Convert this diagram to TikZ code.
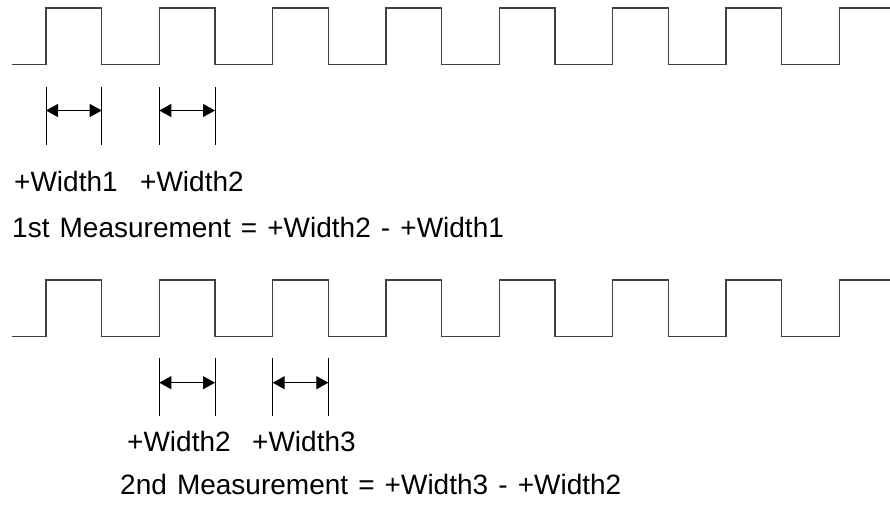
\documentclass[tikz,border=0pt]{standalone}
\usepackage{fontspec}
\setmainfont[WordSpace=1.3]{Liberation Sans}
\usetikzlibrary{arrows.meta}

\begin{document}
\begin{tikzpicture}[
    x=1pt,
    y=-1pt,
    wave/.style={draw=black!75, line width=1.3pt},
    tick/.style={draw, line width=1pt},
    span/.style={{Triangle[length=12pt,width=13pt]}-{Triangle[length=12pt,width=13pt]}, line width=1pt},
    label/.style={anchor=base west, inner sep=0pt, font=\fontsize{28}{33}\selectfont}
]
\useasboundingbox (0,0) rectangle (890,510);

% first pulse train
\draw[wave] (12,64.3) -| (46,8) -| (101.7,64.3) -| (159.3,8) -| (215,64.3)
    -| (272.7,8) -| (328.3,64.3) -| (386,8) -| (441.7,64.3) -| (499.3,8)
    -| (555,64.3) -| (612.7,8) -| (668.3,64.3) -| (726,8) -| (781.7,64.3)
    -| (839.3,8) -- (890,8);

% first pair of widths
\coordinate (a1) at (46,87);
\coordinate (b1) at (101.7,87);
\coordinate (c1) at (159.3,87);
\coordinate (d1) at (215,87);
\draw[tick] (a1) -- ++(0,58);
\draw[tick] (b1) -- ++(0,58);
\draw[tick] (c1) -- ++(0,58);
\draw[tick] (d1) -- ++(0,58);
\draw[span] ([yshift=-23.5pt]a1) -- ([yshift=-23.5pt]b1);
\draw[span] ([yshift=-23.5pt]c1) -- ([yshift=-23.5pt]d1);

\node[label] (w1) at (14,191.7) {+Width1};
\node[label] (w2) at (140,191.7) {+Width2};
\node[label] (m1) at (12,238) {1st Measurement = +Width2 - +Width1};

% second pulse train
\draw[wave] (12,336.7) -| (46,280) -| (101.7,336.7) -| (159.3,280) -| (215,336.7)
    -| (272.7,280) -| (328.3,336.7) -| (386,280) -| (441.7,336.7) -| (499.3,280)
    -| (555,336.7) -| (612.7,280) -| (668.3,336.7) -| (726,280) -| (781.7,336.7)
    -| (839.3,280) -- (890,280);

% second pair of widths
\coordinate (a2) at (159.3,358);
\coordinate (b2) at (215,358);
\coordinate (c2) at (272.7,358);
\coordinate (d2) at (328.3,358);
\draw[tick] (a2) -- ++(0,58);
\draw[tick] (b2) -- ++(0,58);
\draw[tick] (c2) -- ++(0,58);
\draw[tick] (d2) -- ++(0,58);
\draw[span] ([yshift=-24.7pt]a2) -- ([yshift=-24.7pt]b2);
\draw[span] ([yshift=-24.7pt]c2) -- ([yshift=-24.7pt]d2);

\node[label] (w3) at (127,451.7) {+Width2};
\node[label] (w4) at (252,451.7) {+Width3};
\node[label] (m2) at (120,494) {2nd Measurement = +Width3 - +Width2};
\end{tikzpicture}
\end{document}
